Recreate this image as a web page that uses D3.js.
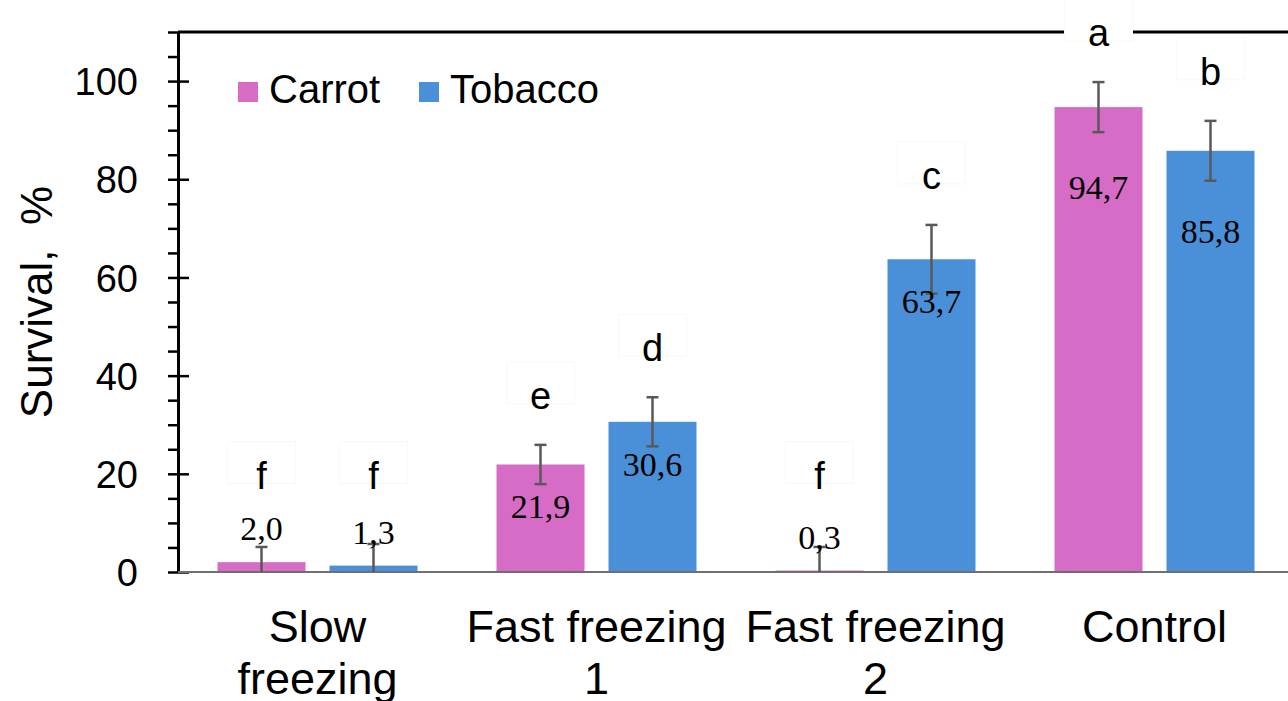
<!DOCTYPE html>
<html>
<head>
<meta charset="utf-8">
<script src="https://cdn.jsdelivr.net/npm/d3@7"></script>
<style>
  body { margin: 0; background: #fff; }
  svg { display: block; }
</style>
</head>
<body>
<div id="chart"></div>
<script>
// data
var categories = ["Slow freezing", "Fast freezing 1", "Fast freezing 2", "Control"];
var catLines = [["Slow", "freezing"], ["Fast freezing", "1"], ["Fast freezing", "2"], ["Control"]];
var series = ["Carrot", "Tobacco"];
var carrot = [2.0, 21.9, 0.3, 94.7];
var tobacco = [1.3, 30.6, 63.7, 85.8];
var carrotErr = [3.1, 4.0, 4.8, 5.1];
var tobaccoErr = [4.4, 5.0, 7.0, 6.1];
var carrotLetters = ["f", "e", "f", "a"];
var tobaccoLetters = ["f", "d", "c", "b"];
var yMajor = [0, 20, 40, 60, 80, 100];

var colors = { Carrot: "#d66cc6", Tobacco: "#4a90d8" };
var sans = "'Liberation Sans', Arial, sans-serif";
var serif = "'Liberation Serif', 'Times New Roman', serif";

var W = 1288, H = 701;
// plot box (window.top is reserved, so use other names)
var plotL = 178, plotR = 1294, plotT = 32, plotB = 572;

var svg = d3.select("#chart").append("svg").attr("width", W).attr("height", H);

var x = d3.scaleBand().domain(categories).range([plotL, plotR]);
var xSub = d3.scaleBand().domain(series).range([0, x.bandwidth()])
  .paddingInner(0.2143).paddingOuter(0.3527);
var y = d3.scaleLinear().domain([0, 110]).range([plotB, plotT]);

// rows
var rows = [];
categories.forEach(function(c, i) {
  rows.push({ cat: c, s: "Carrot", v: carrot[i], e: carrotErr[i], l: carrotLetters[i] });
  rows.push({ cat: c, s: "Tobacco", v: tobacco[i], e: tobaccoErr[i], l: tobaccoLetters[i] });
});
function cx(d) { return x(d.cat) + xSub(d.s) + xSub.bandwidth() / 2; }

// top frame line
svg.append("line")
  .attr("x1", plotL).attr("x2", W).attr("y1", y(110)).attr("y2", y(110))
  .attr("stroke", "#000").attr("stroke-width", 3);

// minor ticks
var minor = d3.range(0, 111, 5).filter(function(v) { return v % 20 !== 0; });
svg.append("g").attr("transform", "translate(" + plotL + ",0)")
  .call(d3.axisLeft(y).tickValues(minor).tickSize(10).tickFormat(""))
  .call(function(g) { g.select(".domain").remove(); })
  .selectAll("line").attr("stroke", "#000").attr("stroke-width", 2.5);

// major axis
var yAxis = svg.append("g").attr("transform", "translate(" + plotL + ",0)")
  .call(d3.axisLeft(y).tickValues(yMajor).tickSize(10).tickPadding(30).tickSizeOuter(0));
yAxis.select(".domain").attr("stroke", "#000").attr("stroke-width", 3);
yAxis.selectAll(".tick line").attr("x1", 11).attr("stroke", "#000").attr("stroke-width", 2.5);
yAxis.selectAll(".tick text").attr("font-family", sans).attr("font-size", 38).attr("fill", "#000").attr("dy", "0.36em");

// y title
svg.append("text")
  .attr("transform", "translate(52,302) rotate(-90)")
  .attr("text-anchor", "middle")
  .attr("font-family", sans).attr("font-size", 44).attr("fill", "#000")
  .attr("xml:space", "preserve")
  .text("Survival,  %");

// bars
svg.append("g").selectAll("rect").data(rows).join("rect")
  .attr("x", function(d) { return x(d.cat) + xSub(d.s); })
  .attr("width", xSub.bandwidth())
  .attr("y", function(d) { return y(d.v); })
  .attr("height", function(d) { return y(0) - y(d.v); })
  .attr("fill", function(d) { return colors[d.s]; });

// x axis line
svg.append("line")
  .attr("x1", plotL).attr("x2", W).attr("y1", y(0)).attr("y2", y(0))
  .attr("stroke", "#6f6f6f").attr("stroke-width", 2);

// error bars
var eb = svg.append("g").attr("stroke", "#595959").attr("stroke-width", 2.5);
rows.forEach(function(d) {
  var hi = d.v + d.e, lo = Math.max(0, d.v - d.e);
  var c = cx(d);
  eb.append("line").attr("x1", c).attr("x2", c).attr("y1", y(hi)).attr("y2", y(lo));
  eb.append("line").attr("x1", c - 6).attr("x2", c + 6).attr("y1", y(hi)).attr("y2", y(hi));
  if (lo > 0) eb.append("line").attr("x1", c - 6).attr("x2", c + 6).attr("y1", y(lo)).attr("y2", y(lo));
});

// value labels
var fmt = d3.format(".1f");
svg.append("g").selectAll("text").data(rows).join("text")
  .attr("x", cx)
  .attr("y", function(d) {
    if (d.v < 5) return y(d.v) - 22;
    if (d.v > 80) return y(d.v) + 92;
    return y(d.v) + 54;
  })
  .attr("text-anchor", "middle")
  .attr("font-family", serif).attr("font-size", 34).attr("fill", "#000")
  .text(function(d) { return fmt(d.v).replace(".", ","); });

// significance letters with white boxes
var lg = svg.append("g");
rows.forEach(function(d) {
  var by = Math.min(y(d.v + d.e) - 36, y(17));
  var c = cx(d);
  lg.append("rect").attr("x", c - 34).attr("y", by - 47).attr("width", 68).attr("height", 42)
    .attr("fill", "#fff").attr("stroke", "#f8f8f8").attr("stroke-width", 1);
  lg.append("text").attr("x", c).attr("y", by)
    .attr("text-anchor", "middle")
    .attr("font-family", sans).attr("font-size", 38).attr("fill", "#000")
    .text(d.l);
});

// x category labels
var xl = svg.append("g");
categories.forEach(function(c, i) {
  catLines[i].forEach(function(line, j) {
    xl.append("text")
      .attr("x", x(c) + x.bandwidth() / 2)
      .attr("y", 642 + j * 52)
      .attr("text-anchor", "middle")
      .attr("font-family", sans).attr("font-size", 45).attr("fill", "#000")
      .text(line);
  });
});

// legend
var legX = [238, 419];
var leg = svg.append("g");
series.forEach(function(s, i) {
  leg.append("rect").attr("x", legX[i]).attr("y", 82).attr("width", 20).attr("height", 20)
    .attr("fill", colors[s]);
  leg.append("text").attr("x", legX[i] + 31).attr("y", 103)
    .attr("font-family", sans).attr("font-size", 40).attr("fill", "#000")
    .text(s);
});
</script>
</body>
</html>
